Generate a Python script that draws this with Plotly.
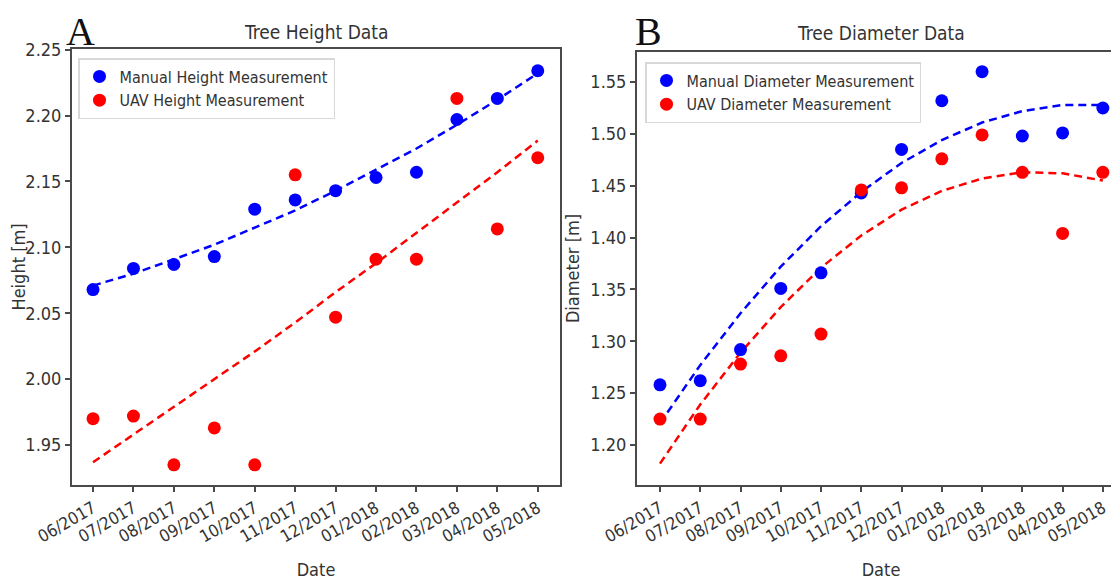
import plotly.graph_objects as go

months = ["06/2017", "07/2017", "08/2017", "09/2017", "10/2017", "11/2017",
          "12/2017", "01/2018", "02/2018", "03/2018", "04/2018", "05/2018"]

height_manual = [2.068, 2.084, 2.087, 2.093, 2.129, 2.136, 2.143, 2.153, 2.157, 2.197, 2.213, 2.234]
height_uav = [1.970, 1.972, 1.935, 1.963, 1.935, 2.155, 2.047, 2.091, 2.091, 2.213, 2.114, 2.168]
height_manual_trend = [2.071, 2.080, 2.091, 2.102, 2.115, 2.128, 2.143, 2.159, 2.175, 2.193, 2.212, 2.232]
height_uav_trend = [1.937, 1.958, 1.979, 2.000, 2.021, 2.043, 2.066, 2.088, 2.111, 2.134, 2.157, 2.181]

diam_manual = [1.258, 1.262, 1.292, 1.351, 1.366, 1.443, 1.485, 1.532, 1.560, 1.498, 1.501, 1.525]
diam_uav = [1.225, 1.225, 1.278, 1.286, 1.307, 1.446, 1.448, 1.476, 1.499, 1.463, 1.404, 1.463]
diam_manual_trend = [1.221, 1.277, 1.327, 1.372, 1.411, 1.444, 1.472, 1.494, 1.511, 1.522, 1.528, 1.528]
diam_uav_trend = [1.182, 1.239, 1.289, 1.333, 1.371, 1.402, 1.427, 1.445, 1.457, 1.463, 1.462, 1.455]

height_ticks = [1.95, 2.00, 2.05, 2.10, 2.15, 2.20, 2.25]
diam_ticks = [1.20, 1.25, 1.30, 1.35, 1.40, 1.45, 1.50, 1.55]

FONT = "Liberation Sans Narrow, DejaVu Sans Condensed, Roboto Condensed, Liberation Sans, sans-serif"
SERIF = "Liberation Serif, DejaVu Serif, serif"
TXT = "#333333"
AX = "#4a4a4a"
BLUE = "#0000ff"
RED = "#ff0000"
W, H = 1119, 579
OFF = 8  # page body margin offset

fig = go.Figure()

def add_panel(xa, ya, manual, uav, mtrend, utrend, mname, uname, legend):
    fig.add_trace(go.Scatter(x=months, y=mtrend, mode="lines", xaxis=xa, yaxis=ya,
                             line=dict(color=BLUE, width=2.5, dash="8px,5px"),
                             showlegend=False, hoverinfo="skip"))
    fig.add_trace(go.Scatter(x=months, y=utrend, mode="lines", xaxis=xa, yaxis=ya,
                             line=dict(color=RED, width=2.5, dash="8px,5px"),
                             showlegend=False, hoverinfo="skip"))
    fig.add_trace(go.Scatter(x=months, y=manual, mode="markers", name=mname, xaxis=xa, yaxis=ya,
                             marker=dict(color=BLUE, size=13), legend=legend))
    fig.add_trace(go.Scatter(x=months, y=uav, mode="markers", name=uname, xaxis=xa, yaxis=ya,
                             marker=dict(color=RED, size=13), legend=legend))

add_panel("x", "y", height_manual, height_uav, height_manual_trend, height_uav_trend,
          "Manual Height Measurement", "UAV Height Measurement", "legend")
add_panel("x2", "y2", diam_manual, diam_uav, diam_manual_trend, diam_uav_trend,
          "Manual Diameter Measurement", "UAV Diameter Measurement", "legend2")

axis_common = dict(showline=True, linecolor=AX, linewidth=2, ticks="outside", ticklen=5,
                   tickcolor=AX, tickwidth=1.5, showgrid=False, zeroline=False, automargin=False)

xtickfont = dict(family=FONT, size=17, color=TXT)
ytickfont = dict(family=FONT, size=18, color=TXT)
titlefont = dict(family=FONT, size=18, color=TXT)

def px_x(p):
    return (p - OFF) / W

def px_y(p):
    return (H - (p - OFF)) / H

fig.update_layout(
    width=W, height=H,
    margin=dict(l=0, r=0, t=0, b=0),
    paper_bgcolor="white", plot_bgcolor="white",
    font=dict(family=FONT, color=TXT),
    xaxis=dict(**axis_common, type="category", domain=[px_x(72), px_x(560)],
               range=[-0.52, 11.55], mirror=True, tickangle=-30, anchor="y", tickfont=xtickfont,
               title=dict(text="Date", font=titlefont, standoff=18)),
    yaxis=dict(**axis_common, domain=[px_y(485), px_y(49)], range=[1.9197, 2.2505],
               tickvals=height_ticks, tickformat=".2f", mirror=True, anchor="x", tickfont=ytickfont,
               title=dict(text="Height [m]", font=titlefont, standoff=6)),
    xaxis2=dict(**axis_common, type="category", domain=[px_x(637), px_x(1125)],
                range=[-0.571, 11.55], mirror=True, tickangle=-30, anchor="y2", tickfont=xtickfont,
                title=dict(text="Date", font=titlefont, standoff=18)),
    yaxis2=dict(**axis_common, domain=[px_y(485), px_y(52)], range=[1.1614, 1.579],
                tickvals=diam_ticks, tickformat=".2f", mirror=False, anchor="x2", tickfont=ytickfont,
                title=dict(text="Diameter [m]", font=titlefont, standoff=6)),
    legend=dict(x=px_x(78), y=px_y(58), xanchor="left", yanchor="top",
                bgcolor="rgba(255,255,255,0.9)", bordercolor="#d8d8d8", borderwidth=1.5,
                font=dict(family=FONT, size=16, color=TXT)),
    legend2=dict(x=px_x(645), y=px_y(62), xanchor="left", yanchor="top",
                 bgcolor="rgba(255,255,255,0.9)", bordercolor="#d8d8d8", borderwidth=1.5,
                 font=dict(family=FONT, size=16, color=TXT)),
    annotations=[
        dict(text="Tree Height Data", x=(px_x(72) + px_x(560)) / 2, y=px_y(32), xref="paper", yref="paper",
             showarrow=False, xanchor="center", yanchor="middle",
             font=dict(family=FONT, size=19, color=TXT)),
        dict(text="Tree Diameter Data", x=(px_x(637) + px_x(1125)) / 2, y=px_y(33), xref="paper", yref="paper",
             showarrow=False, xanchor="center", yanchor="middle",
             font=dict(family=FONT, size=19, color=TXT)),
        dict(text="A", x=px_x(65), y=1.0, xref="paper", yref="paper", showarrow=False,
             xanchor="left", yanchor="top", borderpad=0,
             font=dict(family=SERIF, size=40, color="#111111")),
        dict(text="B", x=px_x(634), y=1.0, xref="paper", yref="paper", showarrow=False,
             xanchor="left", yanchor="top", borderpad=0,
             font=dict(family=SERIF, size=40, color="#111111")),
    ],
)

fig.write_html("out.html")
